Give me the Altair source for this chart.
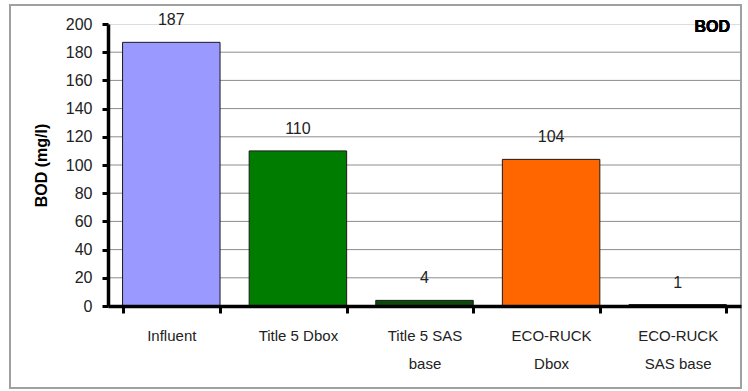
import altair as alt
import pandas as pd

categories = ["Influent", "Title 5 Dbox", "Title 5 SAS\nbase", "ECO-RUCK\nDbox", "ECO-RUCK\nSAS base"]
values = [187, 110, 4, 104, 1]
colors = ["#9999FF", "#007D00", "#0B4A0B", "#FF6600", "#FF6600"]
y_ticks = [0, 20, 40, 60, 80, 100, 120, 140, 160, 180, 200]
grid_values = [20, 40, 60, 80, 100, 120, 140, 160, 180]

df = pd.DataFrame({"cat": categories, "val": values, "color": colors})
grid_df = pd.DataFrame({"g": grid_values})

FONT = "Liberation Sans"
W, H = 633, 282

x_axis = alt.Axis(title=None, labelAngle=0, labelExpr="split(datum.label, '\\n')",
                  labelFont=FONT, labelFontSize=15, labelColor="#222",
                  labelLineHeight=28, labelPadding=22, labelBaseline="middle",
                  tickBand="extent", tickSize=7, tickWidth=3, tickColor="black",
                  domainColor="black", domainWidth=3.5, grid=False, zindex=1)
y_axis = alt.Axis(title="BOD (mg/l)", values=y_ticks, labelOverlap=False, orient="left",
                  titleFont=FONT, titleFontSize=16,
                  titleFontWeight="bold", titleColor="black", titlePadding=16,
                  labelFont=FONT, labelFontSize=16, labelColor="#222", labelPadding=10,
                  tickSize=6, tickWidth=3, tickColor="black",
                  domainColor="black", domainWidth=3.5, grid=False, zindex=1)
y_scale = alt.Scale(domain=[0, 200], nice=False)

x = alt.X("cat:N", sort=categories,
          scale=alt.Scale(paddingInner=0.23, paddingOuter=0.115), axis=x_axis)

grid = alt.Chart(grid_df).mark_rule(color="#8c8c8c", strokeWidth=1).encode(
    y=alt.Y("g:Q", scale=y_scale, axis=None),
    x=alt.value(0), x2=alt.value(W))

bars = alt.Chart(df).mark_bar(stroke="#1a1a1a", strokeWidth=1).encode(
    x=x, y=alt.Y("val:Q", scale=y_scale, axis=y_axis),
    color=alt.Color("color:N", scale=None))

labels = alt.Chart(df).mark_text(font=FONT, fontSize=16, color="#222", dy=-22, baseline="middle").encode(
    x=x, y=alt.Y("val:Q", scale=y_scale, axis=None), text="val:Q")

title = alt.Chart(df).mark_text(font=FONT, fontSize=16, fontWeight="bold", color="black",
                                align="right", baseline="middle").encode(
    x=alt.value(622), y=alt.value(3), text=alt.value("BOD"))

frame = alt.Chart(df).mark_rect(fill=None, stroke="#a0a0a0", strokeWidth=1.5).encode(
    x=alt.value(-98), x2=alt.value(W), y=alt.value(-19), y2=alt.value(364))

chart = alt.layer(grid, bars, labels, title, frame).resolve_axis(y="independent").properties(
    width=W, height=H,
    autosize=alt.AutoSizeParams(type="none"),
    padding={"left": 108, "top": 24, "right": 7, "bottom": 85},
).configure_view(stroke=None).configure(background="white")

chart.save("out.html", embed_options={"renderer": "svg", "actions": False})
